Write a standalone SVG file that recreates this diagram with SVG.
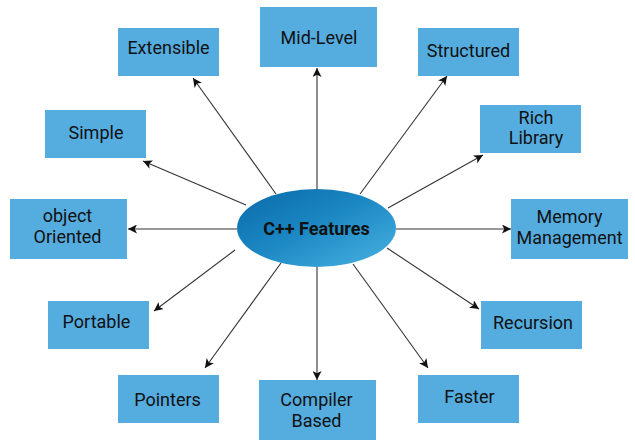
<svg xmlns="http://www.w3.org/2000/svg" width="635" height="446" viewBox="0 0 635 446">
<defs>
<linearGradient id="eg" x1="0" y1="0" x2="1" y2="1">
<stop offset="0" stop-color="#0a6aa8"/>
<stop offset="0.45" stop-color="#1a86c2"/>
<stop offset="1" stop-color="#4ab3e2"/>
</linearGradient>
<marker id="ah" viewBox="0 0 10 10" refX="10" refY="5" markerWidth="9" markerHeight="9" markerUnits="userSpaceOnUse" orient="auto">
<path d="M0,0 L10,5 L0,10 L2.5,5 z" fill="#111"/>
</marker>
<style>
.box{fill:#55acdf;}
.t{font-family:Roboto,"Liberation Sans",sans-serif;font-size:18px;fill:#111;text-anchor:middle;}
.c{stroke:#333;stroke-width:1.1;fill:none;marker-end:url(#ah);}
</style>
</defs>
<rect width="635" height="446" fill="#fff"/>
<g id="connectors">
<line class="c" x1="317" y1="189" x2="317" y2="68"/>
<line class="c" x1="276" y1="194" x2="193" y2="78"/>
<line class="c" x1="360" y1="194" x2="447" y2="76"/>
<line class="c" x1="388" y1="208" x2="483" y2="155"/>
<line class="c" x1="246" y1="205" x2="143" y2="161"/>
<line class="c" x1="237" y1="229" x2="128" y2="229"/>
<line class="c" x1="396" y1="229" x2="511" y2="229"/>
<line class="c" x1="235" y1="250" x2="154" y2="311"/>
<line class="c" x1="387" y1="248" x2="479" y2="309"/>
<line class="c" x1="281" y1="263" x2="205" y2="368"/>
<line class="c" x1="353" y1="264" x2="428" y2="368"/>
<line class="c" x1="317" y1="267" x2="317" y2="380"/>
</g>
<g id="center">
<ellipse cx="316.5" cy="228" rx="79.5" ry="39" fill="url(#eg)"/>
<text class="t" x="316.5" y="234.5" style="font-weight:bold">C++ Features</text>
</g>
<g id="midlevel"><rect class="box" x="260" y="7" width="117" height="60"/><text class="t" x="319" y="44">Mid-Level</text></g>
<g id="extensible"><rect class="box" x="118" y="28" width="101" height="48"/><text class="t" x="168.5" y="54">Extensible</text></g>
<g id="structured"><rect class="box" x="418" y="28" width="101" height="48"/><text class="t" x="468.5" y="57">Structured</text></g>
<g id="richlibrary"><rect class="box" x="480" y="105" width="101" height="48"/><text class="t" x="536" y="124">Rich</text><text class="t" x="536" y="144">Library</text></g>
<g id="simple"><rect class="box" x="45" y="110" width="101" height="48"/><text class="t" x="96" y="139">Simple</text></g>
<g id="objectoriented"><rect class="box" x="10" y="199" width="117" height="60"/><text class="t" x="67.5" y="222">object</text><text class="t" x="67.5" y="243">Oriented</text></g>
<g id="memory"><rect class="box" x="511" y="199" width="117" height="60"/><text class="t" x="569.5" y="223">Memory</text><text class="t" x="569.5" y="244">Management</text></g>
<g id="portable"><rect class="box" x="48" y="301" width="101" height="48"/><text class="t" x="96.5" y="328">Portable</text></g>
<g id="recursion"><rect class="box" x="481" y="301" width="101" height="48"/><text class="t" x="533" y="329">Recursion</text></g>
<g id="pointers"><rect class="box" x="118" y="375" width="101" height="48"/><text class="t" x="167.5" y="406">Pointers</text></g>
<g id="compiler"><rect class="box" x="259" y="380" width="117" height="60"/><text class="t" x="316.5" y="406">Compiler</text><text class="t" x="316.5" y="427">Based</text></g>
<g id="faster"><rect class="box" x="418" y="375" width="101" height="48"/><text class="t" x="469.5" y="403">Faster</text></g>
</svg>
